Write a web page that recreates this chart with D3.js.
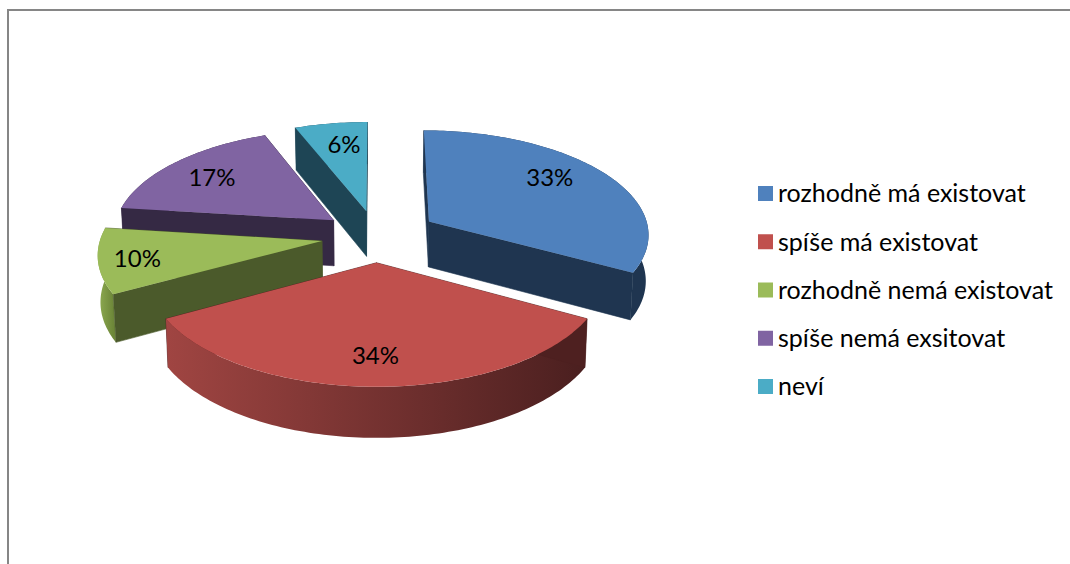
<!DOCTYPE html>
<html>
<head>
<meta charset="utf-8">
<script src="https://cdn.jsdelivr.net/npm/d3@7"></script>
<style>
html, body { margin: 0; padding: 0; background: #fff; overflow: hidden; }
text { font-family: Lato, "Open Sans", sans-serif; fill: #000; }
</style>
</head>
<body>
<div id="chart"></div>
<script>
// values
var categories = ["rozhodně má existovat", "spíše má existovat", "rozhodně nemá existovat", "spíše nemá exsitovat", "neví"];
var percents = [33, 34, 10, 17, 6];

var topColors = ["#4f81bd", "#c0504d", "#9bbb59", "#8064a2", "#4bacc6"];
var wallColors = ["#1f3550", "#4e2020", "#4b5a2b", "#352944", "#1e4555"];
var rimFrom = ["#1f3550", "#a04542", "#8fac52", "#352944", "#1e4555"];
var rimTo = ["#1f3550", "#4a1f1f", "#6d8739", "#352944", "#1e4555"];

var width = 1070,
    height = 564;

// pie layout: plane coordinates are in radius units, k is the perspective
var cx = 376.5, cy = 236,
    rx = 221, ry = 104,
    k = 0.11,
    depth = 46;
var explode = [0.28, 0.25, 0.25, 0.25, 0.25];

// label placement along the slice middle, then a small nudge in pixels
var labelFrac = [0.68, 0.78, 0.827, 0.756, 0.724];
var labelDx = [0, -1, 0, 0, 4];
var labelDy = [-10, -1, 1, 2, -1];

var svg = d3.select("#chart").append("svg")
    .attr("width", width)
    .attr("height", height);

// frame, only top and left show in the crop
svg.append("path")
    .attr("d", "M8,564V10H1070")
    .attr("fill", "none")
    .attr("stroke", "#868686")
    .attr("stroke-width", 2);

var color = d3.scaleOrdinal().domain(categories).range(topColors);

var pie = d3.pie().sort(null).value(function(d) { return d.value; });
var slices = pie(categories.map(function(c, i) { return { name: c, value: percents[i], i: i }; }));

// angle goes clockwise from the top, as d3.pie gives it
function project(u, v, down) {
    var s = 1 / (1 - k * v);
    var d = down ? depth * (1 + 0.7 * (s - 1)) : 0;
    var xf = down ? 0.99 : 1;
    return [cx + (rx * u * s) * xf, cy + ry * v * s + d];
}

function apex(sl) {
    var mid = (sl.startAngle + sl.endAngle) / 2;
    var e = explode[sl.data.i];
    return [e * Math.sin(mid), -e * Math.cos(mid)];
}

function rimPoints(sl, down) {
    var a = apex(sl);
    var n = Math.max(2, Math.ceil((sl.endAngle - sl.startAngle) / 0.02));
    return d3.range(n + 1).map(function(j) {
        var t = sl.startAngle + (sl.endAngle - sl.startAngle) * j / n;
        return project(a[0] + Math.sin(t), a[1] - Math.cos(t), down);
    });
}

var line = d3.line();

var defs = svg.append("defs");
slices.forEach(function(sl) {
    var i = sl.data.i;
    var xs = d3.extent(rimPoints(sl, false), function(p) { return p[0]; });
    var grad = defs.append("linearGradient")
        .attr("id", "rim" + i)
        .attr("gradientUnits", "userSpaceOnUse")
        .attr("x1", xs[0]).attr("x2", xs[1])
        .attr("y1", 0).attr("y2", 0);
    grad.append("stop").attr("offset", 0).attr("stop-color", rimFrom[i]);
    grad.append("stop").attr("offset", 1).attr("stop-color", rimTo[i]);
});

// back slices first so the front ones overlap them
var drawOrder = [4, 3, 0, 2, 1];
drawOrder.forEach(function(idx) {
    var sl = slices[idx];
    var i = sl.data.i;
    var g = svg.append("g").attr("class", "slice");
    var a = apex(sl);
    var topRim = rimPoints(sl, false);
    var lowRim = rimPoints(sl, true);
    var a0 = project(a[0], a[1], false);
    var a1 = project(a[0], a[1], true);

    function wall(p0, p1) {
        return line([a0, p0, p1, a1]) + "Z";
    }
    var walls = [
        { v: Math.cos(sl.startAngle), d: wall(topRim[0], lowRim[0]) },
        { v: Math.cos(sl.endAngle), d: wall(topRim[topRim.length - 1], lowRim[lowRim.length - 1]) }
    ].sort(function(p, q) { return q.v - p.v; });

    // thin stroke closes the seam between wall and rim
    g.append("path").attr("d", walls[0].d).attr("fill", wallColors[i])
        .attr("stroke", wallColors[i]).attr("stroke-width", 0.6);
    g.append("path")
        .attr("d", line(topRim.concat(lowRim.slice().reverse())) + "Z")
        .attr("fill", "url(#rim" + i + ")");
    g.append("path").attr("d", walls[1].d).attr("fill", wallColors[i])
        .attr("stroke", wallColors[i]).attr("stroke-width", 0.6);
    g.append("path")
        .attr("d", line([a0].concat(topRim)) + "Z")
        .attr("fill", color(sl.data.name));
});

// data labels
slices.forEach(function(sl, i) {
    var a = apex(sl);
    var mid = (sl.startAngle + sl.endAngle) / 2;
    var p = project(a[0] + labelFrac[i] * Math.sin(mid), a[1] - labelFrac[i] * Math.cos(mid), false);
    svg.append("text")
        .attr("x", p[0] + labelDx[i])
        .attr("y", p[1] + labelDy[i])
        .attr("dy", "0.35em")
        .attr("text-anchor", "middle")
        .style("font-size", "24px")
        .text(sl.data.value + "%");
});

// legend
var legendY = d3.scalePoint().domain(categories).range([193.5, 386.5]);
var legend = svg.append("g").attr("class", "legend");
categories.forEach(function(c) {
    legend.append("rect")
        .attr("x", 758)
        .attr("y", legendY(c) - 7.5)
        .attr("width", 15)
        .attr("height", 15)
        .attr("fill", color(c));
    legend.append("text")
        .attr("x", 778)
        .attr("y", legendY(c))
        .attr("dy", "0.35em")
        .style("font-size", "25px")
        .text(c);
});
</script>
</body>
</html>
